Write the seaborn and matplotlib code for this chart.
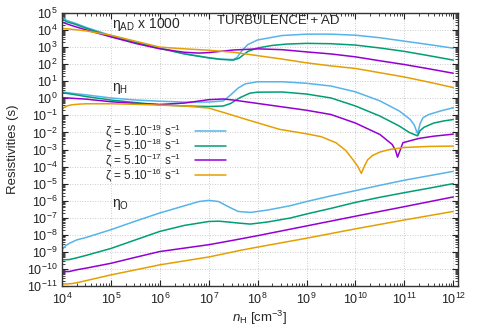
import numpy as np
import pandas as pd
import matplotlib
matplotlib.use("Agg")
import matplotlib.pyplot as plt
import matplotlib.ticker as mticker
import seaborn as sns

# ---------- DATA (log10 values) ----------
zeta_labels = [
    "ζ = 5.10$^{-19}$ s$^{-1}$",
    "ζ = 5.10$^{-18}$ s$^{-1}$",
    "ζ = 5.10$^{-17}$ s$^{-1}$",
    "ζ = 5.10$^{-16}$ s$^{-1}$",
]
colors = ["#56b4e9", "#009e73", "#9400d3", "#e69f00"]

# eta_AD x 1000
ad_blue_logn = [4, 4.1, 4.25, 4.5, 5, 5.5, 6, 6.5, 7, 7.25, 7.5, 7.58, 7.68, 7.8, 8, 8.5, 9, 9.5, 10, 10.5, 11, 11.5, 12]
ad_blue = [4.76, 4.56, 4.42, 4.15, 3.68, 3.3, 2.95, 2.62, 2.38, 2.3, 2.27, 2.4, 2.8, 3.15, 3.42, 3.68, 3.76, 3.76, 3.7, 3.55, 3.35, 3.15, 2.94]
ad_green_logn = [4, 4.1, 4.25, 4.5, 5, 5.5, 6, 6.5, 7, 7.25, 7.5, 7.62, 7.8, 8, 8.3, 8.6, 9, 9.5, 10, 10.5, 11, 11.5, 12]
ad_green = [4.65, 4.48, 4.36, 4.1, 3.63, 3.27, 2.93, 2.6, 2.37, 2.28, 2.24, 2.35, 2.75, 2.95, 3.1, 3.18, 3.22, 3.2, 3.12, 2.95, 2.75, 2.5, 2.24]
ad_purple_logn = [4, 4.1, 4.25, 4.5, 5, 5.5, 6, 6.5, 6.8, 7, 7.5, 8, 8.5, 9, 9.5, 10, 10.5, 11, 11.5, 12]
ad_purple = [4.47, 4.36, 4.22, 4.0, 3.6, 3.22, 2.9, 2.7, 2.65, 2.68, 2.83, 2.9, 2.85, 2.72, 2.6, 2.43, 2.2, 1.98, 1.73, 1.47]
ad_orange_logn = [4, 4.25, 4.5, 5, 5.5, 6, 6.5, 7, 7.5, 8, 8.5, 9, 9.5, 10, 10.5, 11, 11.5, 12]
ad_orange = [4.1, 4.03, 3.95, 3.7, 3.35, 3.0, 2.9, 2.82, 2.7, 2.5, 2.3, 2.08, 1.9, 1.75, 1.5, 1.25, 0.95, 0.63]

# eta_H
h_blue_logn = [4, 4.25, 4.5, 5, 5.5, 6, 6.5, 7, 7.3, 7.45, 7.6, 7.75, 8, 8.5, 9, 9.5, 10, 10.5, 10.9, 11.12, 11.2, 11.27, 11.32, 11.38, 11.5, 11.73, 12]
h_blue = [0.37, 0.28, 0.2, 0.02, -0.1, -0.17, -0.22, -0.22, -0.15, 0.2, 0.6, 0.85, 0.97, 0.97, 0.88, 0.72, 0.38, -0.15, -0.75, -1.24, -1.55, -2.08, -1.5, -1.14, -0.95, -0.75, -0.55]
h_green_logn = [4, 4.25, 4.5, 5, 5.5, 6, 6.5, 7, 7.3, 7.45, 7.64, 7.84, 8, 8.5, 9, 9.5, 10, 10.5, 10.9, 11.1, 11.2, 11.27, 11.32, 11.4, 11.6, 11.8, 12]
h_green = [0.33, 0.22, 0.1, -0.1, -0.25, -0.38, -0.45, -0.48, -0.45, -0.3, 0.04, 0.3, 0.36, 0.37, 0.25, 0.02, -0.45, -1.04, -1.63, -2.0, -2.12, -2.2, -1.9, -1.7, -1.45, -1.33, -1.24]
h_purple_logn = [4, 4.5, 5, 5.5, 6, 6.5, 7, 7.3, 7.5, 8, 8.5, 9, 9.5, 10, 10.5, 10.75, 10.82, 10.86, 10.92, 10.97, 11.3, 11.6, 12]
h_purple = [0.04, -0.05, -0.2, -0.3, -0.36, -0.28, -0.08, -0.04, -0.1, -0.3, -0.5, -0.7, -0.95, -1.45, -2.12, -2.7, -3.05, -3.45, -3.0, -2.6, -2.35, -2.22, -2.1]
h_orange_logn = [4, 4.05, 4.1, 4.2, 4.35, 4.5, 5, 5.5, 6, 6.5, 7, 7.36, 7.77, 8.45, 9, 9.3, 9.6, 9.8, 9.95, 10.05, 10.12, 10.18, 10.25, 10.35, 10.5, 10.7, 11, 11.5, 12]
h_orange = [-0.65, -0.52, -0.45, -0.38, -0.34, -0.32, -0.32, -0.35, -0.4, -0.45, -0.57, -0.88, -1.24, -1.82, -2.08, -2.25, -2.6, -3.05, -3.6, -4.0, -4.4, -4.0, -3.6, -3.35, -3.15, -3.0, -2.88, -2.82, -2.8]

# eta_O
o_blue_logn = [4, 4.07, 4.15, 4.3, 4.5, 5, 5.5, 6, 6.5, 6.8, 7, 7.2, 7.4, 7.6, 7.85, 8.2, 8.66, 9, 9.5, 10, 10.5, 11, 11.5, 12]
o_blue = [-8.88, -8.65, -8.5, -8.3, -8.15, -7.7, -7.2, -6.72, -6.3, -6.05, -5.98, -6.05, -6.35, -6.63, -6.69, -6.55, -6.3, -6.05, -5.72, -5.41, -5.1, -4.8, -4.54, -4.28]
o_green_logn = [4, 4.15, 4.3, 4.5, 5, 5.5, 6, 6.5, 7, 7.2, 7.4, 7.6, 7.85, 8.2, 8.66, 9, 9.5, 10, 10.5, 11, 11.5, 12]
o_green = [-9.47, -9.45, -9.35, -9.2, -8.8, -8.3, -7.8, -7.45, -7.22, -7.2, -7.25, -7.31, -7.37, -7.25, -7.02, -6.78, -6.45, -6.1, -5.8, -5.53, -5.27, -5.0]
o_purple_logn = [4, 4.15, 4.3, 4.5, 5, 5.5, 6, 6.5, 7, 7.5, 8, 9, 10, 11, 12]
o_purple = [-10.16, -10.15, -10.05, -9.95, -9.67, -9.32, -8.98, -8.78, -8.58, -8.32, -8.05, -7.48, -6.91, -6.35, -5.78]
o_orange_logn = [4, 4.1, 4.2, 4.35, 4.5, 5, 6, 7, 7.63, 8, 9, 10, 11, 12]
o_orange = [-10.88, -10.88, -10.86, -10.78, -10.68, -10.35, -9.76, -9.3, -8.92, -8.72, -8.2, -7.65, -7.13, -6.63]

curves = [
    ("AD", 0, ad_blue_logn, ad_blue), ("AD", 1, ad_green_logn, ad_green),
    ("AD", 2, ad_purple_logn, ad_purple), ("AD", 3, ad_orange_logn, ad_orange),
    ("H", 0, h_blue_logn, h_blue), ("H", 1, h_green_logn, h_green),
    ("H", 2, h_purple_logn, h_purple), ("H", 3, h_orange_logn, h_orange),
    ("O", 0, o_blue_logn, o_blue), ("O", 1, o_green_logn, o_green),
    ("O", 2, o_purple_logn, o_purple), ("O", 3, o_orange_logn, o_orange),
]

rows = []
for quantity, k, logn, logeta in curves:
    for a, b in zip(logn, logeta):
        rows.append({"quantity": quantity, "zeta": zeta_labels[k],
                     "n": 10.0 ** a, "eta": 10.0 ** b})
df = pd.DataFrame(rows)

# ---------- STYLE ----------
sns.set_theme(style="ticks")
plt.rcParams["font.family"] = ["Liberation Sans", "DejaVu Sans"]
plt.rcParams["mathtext.fontset"] = "custom"
plt.rcParams["mathtext.rm"] = "Liberation Sans"
plt.rcParams["mathtext.it"] = "Liberation Sans:italic"
plt.rcParams["axes.unicode_minus"] = False

fig, ax = plt.subplots(figsize=(4.8, 3.36), dpi=100)
fig.subplots_adjust(left=62 / 480, right=458 / 480, bottom=50 / 336, top=1 - 13 / 336)
ax.set_xscale("log")
ax.set_yscale("log")

sns.lineplot(data=df, x="n", y="eta", hue="zeta", units="quantity",
             estimator=None, palette=colors, hue_order=zeta_labels,
             linewidth=1.1, ax=ax)

ax.set_xlim(1e4, 1.25e12)
ax.set_ylim(1e-11, 1e5)
ax.xaxis.set_major_locator(mticker.LogLocator(base=10, numticks=20))
ax.yaxis.set_major_locator(mticker.LogLocator(base=10, numticks=30))
ax.xaxis.set_minor_locator(mticker.LogLocator(base=10, subs=np.arange(2, 10), numticks=20))
ax.yaxis.set_minor_locator(mticker.LogLocator(base=10, subs=np.arange(2, 10), numticks=30))
ax.yaxis.set_minor_formatter(mticker.NullFormatter())
ax.xaxis.set_minor_formatter(mticker.NullFormatter())
ax.tick_params(which="both", direction="in", top=True, right=True,
               labelsize=9, colors="#222222", pad=3)
ax.tick_params(axis="x", which="major", pad=4.5)
ax.tick_params(which="major", length=4.5, width=0.8)
ax.tick_params(which="minor", length=2.2, width=0.6)
ax.grid(True, which="major", linestyle=(0, (1, 2)), color="#bbbbbb", linewidth=0.6)
for s in ax.spines.values():
    s.set_color("#333333")
    s.set_linewidth(1.0)

ax.set_xlabel("$n_{\\rm H}$ [cm$^{-3}$]", fontsize=9.5, labelpad=1)
ax.set_ylabel("Resistivities (s)", fontsize=9.5, labelpad=6)

ax.text(10 ** 5.03, 10 ** 4.3, "η$_{\\rm AD}$ x 1000", fontsize=10, va="center", ha="left")
ax.text(10 ** 8.43, 10 ** 4.55, "TURBULENCE + AD", fontsize=9.5, va="center", ha="center")
ax.text(10 ** 5.03, 10 ** 0.6, "η$_{\\rm H}$", fontsize=10, va="center", ha="left")
ax.text(10 ** 5.03, 10 ** -6.25, "η$_{\\rm O}$", fontsize=10, va="center", ha="left")

handles, labels = ax.get_legend_handles_labels()
ax.legend(handles, labels, loc="upper left", bbox_to_anchor=(0.108, 0.6),
          frameon=False, markerfirst=False, fontsize=8.5, handlelength=2.6,
          handletextpad=1.2, labelspacing=-0.25, borderpad=0, borderaxespad=0)

fig.savefig("out.png", dpi=100)
